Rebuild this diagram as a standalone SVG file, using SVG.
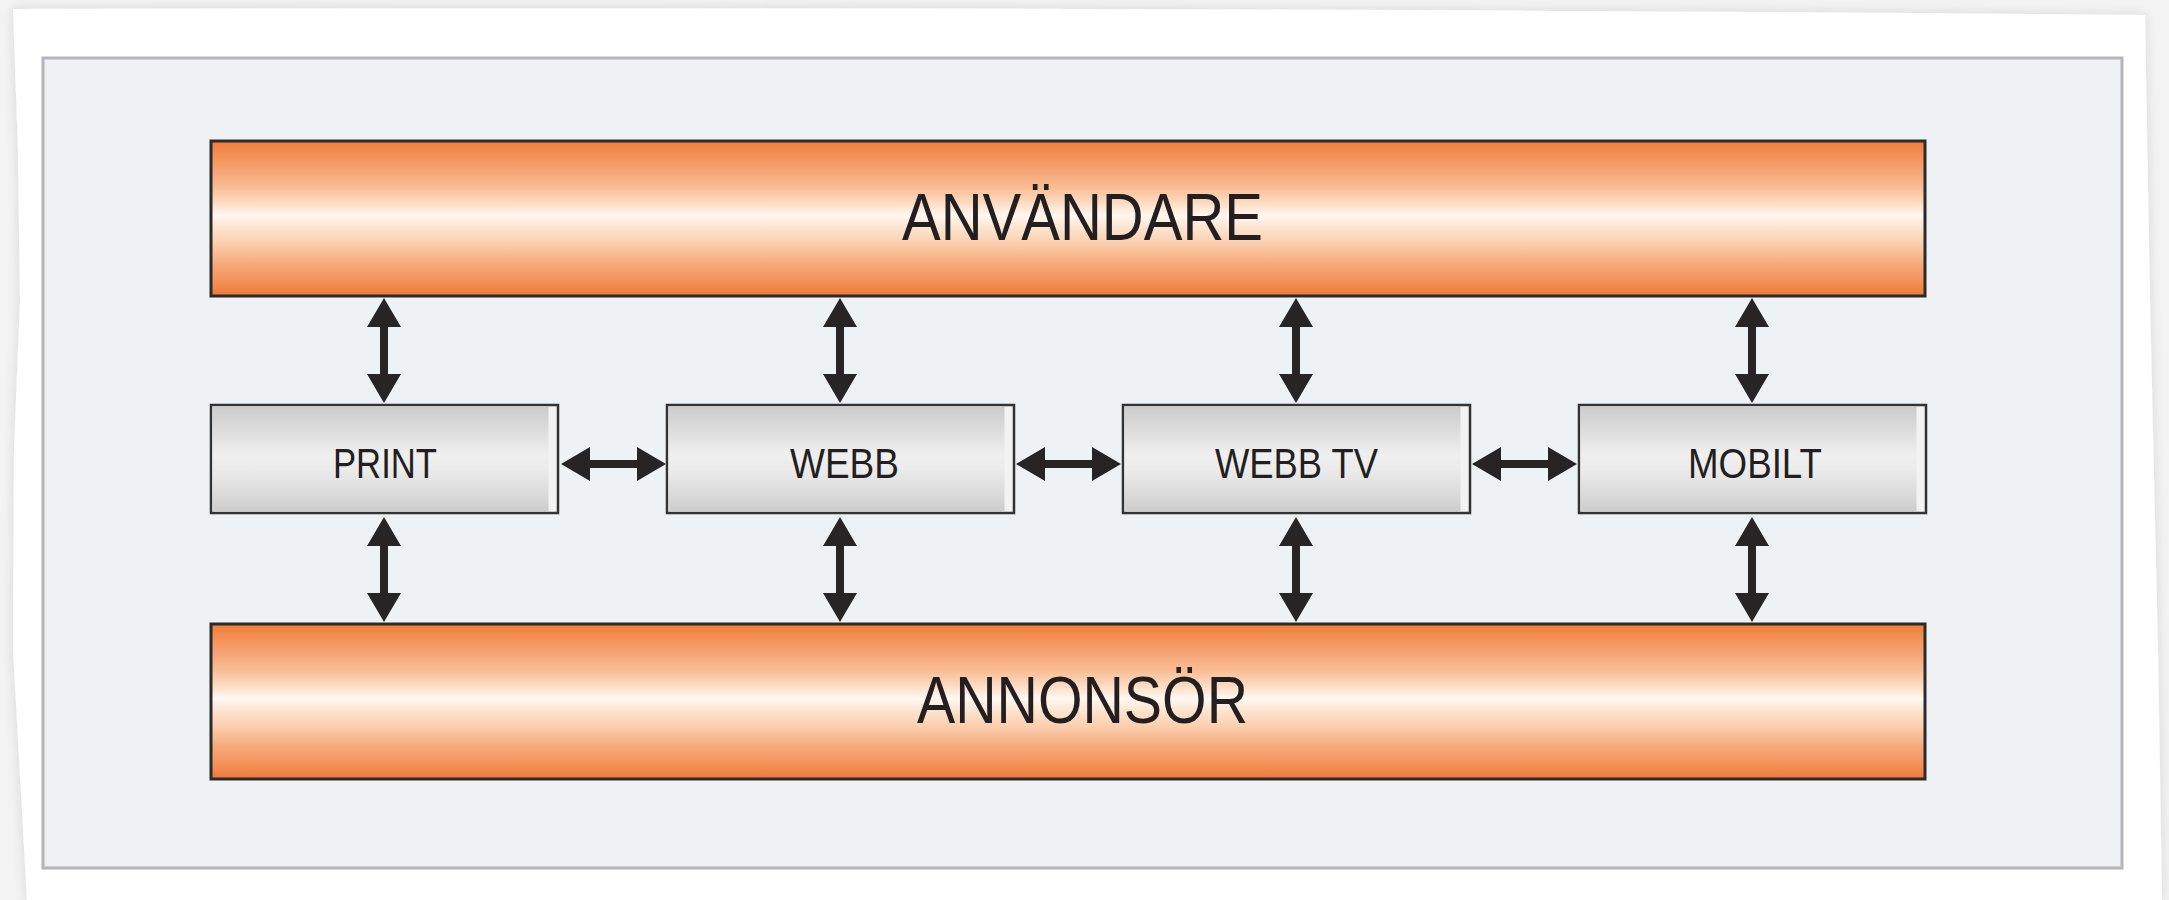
<svg xmlns="http://www.w3.org/2000/svg" width="2169" height="900" viewBox="0 0 2169 900">
<defs>
<linearGradient id="og" x1="0" y1="0" x2="0" y2="1">
<stop offset="0" stop-color="#ee7c38"/>
<stop offset="0.08" stop-color="#f38e50"/>
<stop offset="0.18" stop-color="#f5a272"/>
<stop offset="0.30" stop-color="#f9bd94"/>
<stop offset="0.40" stop-color="#fcdcc3"/>
<stop offset="0.48" stop-color="#fff8f1"/>
<stop offset="0.56" stop-color="#fde4cf"/>
<stop offset="0.66" stop-color="#fbcfae"/>
<stop offset="0.78" stop-color="#f6ad7e"/>
<stop offset="0.90" stop-color="#f4925a"/>
<stop offset="1" stop-color="#ee7a36"/>
</linearGradient>
<linearGradient id="gg" x1="0" y1="0" x2="0" y2="1">
<stop offset="0" stop-color="#cbcbcb"/>
<stop offset="0.15" stop-color="#d7d7d7"/>
<stop offset="0.30" stop-color="#e2e2e2"/>
<stop offset="0.45" stop-color="#efefef"/>
<stop offset="0.60" stop-color="#ebebeb"/>
<stop offset="0.75" stop-color="#e1e1e1"/>
<stop offset="0.90" stop-color="#d5d5d5"/>
<stop offset="1" stop-color="#cbcbcb"/>
</linearGradient>
<filter id="sh" x="-5%" y="-5%" width="110%" height="110%">
<feDropShadow dx="0" dy="0" stdDeviation="6" flood-color="#000" flood-opacity="0.12"/>
</filter>
</defs>
<style>
.bar{fill:url(#og);stroke:#2b2b2b;stroke-width:3}
.box{fill:#f3f3f3;stroke:#333;stroke-width:2.5}
.boxg{fill:url(#gg)}
.big{font-family:"Liberation Sans",Arial,sans-serif;font-size:66px;fill:#231f20}
.lbl{font-family:"Liberation Sans",Arial,sans-serif;font-size:42px;fill:#231f20}
.arr{fill:#272425}
</style>
<rect x="0" y="0" width="2169" height="900" fill="#f3f3f3"/>
<path d="M13,9 Q1100,6 2145,15 L2150,300 L2158,650 L2162,900 L27,900 L13,650 L14,450 L20,300 L18,150 Z" fill="#ffffff" filter="url(#sh)"/>
<rect x="43" y="58" width="2079" height="810" fill="#eef2f5" stroke="#b4b5b9" stroke-width="3"/>

<g id="anvandare">
<rect class="bar" x="211" y="141" width="1714" height="155"/>
<text class="big" x="902" y="240" textLength="361" lengthAdjust="spacingAndGlyphs">ANVÄNDARE</text>
</g>
<g id="annonsor">
<rect class="bar" x="211" y="624" width="1714" height="155"/>
<text class="big" x="917" y="723" textLength="331" lengthAdjust="spacingAndGlyphs">ANNONSÖR</text>
</g>
<g id="print">
<rect class="box" x="211" y="405" width="347" height="108"/>
<rect class="boxg" x="212.5" y="406.5" width="336" height="105"/>
<text class="lbl" x="333" y="478" textLength="104" lengthAdjust="spacingAndGlyphs">PRINT</text>
</g>
<g id="webb">
<rect class="box" x="667" y="405" width="347" height="108"/>
<rect class="boxg" x="668.5" y="406.5" width="336" height="105"/>
<text class="lbl" x="790" y="478" textLength="109" lengthAdjust="spacingAndGlyphs">WEBB</text>
</g>
<g id="webbtv">
<rect class="box" x="1123" y="405" width="347" height="108"/>
<rect class="boxg" x="1124.5" y="406.5" width="336" height="105"/>
<text class="lbl" x="1215" y="478" textLength="163" lengthAdjust="spacingAndGlyphs">WEBB TV</text>
</g>
<g id="mobilt">
<rect class="box" x="1579" y="405" width="347" height="108"/>
<rect class="boxg" x="1580.5" y="406.5" width="336" height="105"/>
<text class="lbl" x="1688" y="478" textLength="134" lengthAdjust="spacingAndGlyphs">MOBILT</text>
</g>

<g id="connectors" class="arr">
<path d="M384,298 L401,327 L388,327 L388,374 L401,374 L384,403 L367,374 L380,374 L380,327 L367,327 Z"/>
<path d="M840,298 L857,327 L844,327 L844,374 L857,374 L840,403 L823,374 L836,374 L836,327 L823,327 Z"/>
<path d="M1296,298 L1313,327 L1300,327 L1300,374 L1313,374 L1296,403 L1279,374 L1292,374 L1292,327 L1279,327 Z"/>
<path d="M1752,298 L1769,327 L1756,327 L1756,374 L1769,374 L1752,403 L1735,374 L1748,374 L1748,327 L1735,327 Z"/>
<path d="M384,517 L401,546 L388,546 L388,593 L401,593 L384,622 L367,593 L380,593 L380,546 L367,546 Z"/>
<path d="M840,517 L857,546 L844,546 L844,593 L857,593 L840,622 L823,593 L836,593 L836,546 L823,546 Z"/>
<path d="M1296,517 L1313,546 L1300,546 L1300,593 L1313,593 L1296,622 L1279,593 L1292,593 L1292,546 L1279,546 Z"/>
<path d="M1752,517 L1769,546 L1756,546 L1756,593 L1769,593 L1752,622 L1735,593 L1748,593 L1748,546 L1735,546 Z"/>
<path d="M561,464 L590,447 L590,460 L637,460 L637,447 L666,464 L637,481 L637,468 L590,468 L590,481 Z"/>
<path d="M1016,464 L1045,447 L1045,460 L1092,460 L1092,447 L1121,464 L1092,481 L1092,468 L1045,468 L1045,481 Z"/>
<path d="M1472,464 L1501,447 L1501,460 L1548,460 L1548,447 L1577,464 L1548,481 L1548,468 L1501,468 L1501,481 Z"/>
</g>
</svg>
